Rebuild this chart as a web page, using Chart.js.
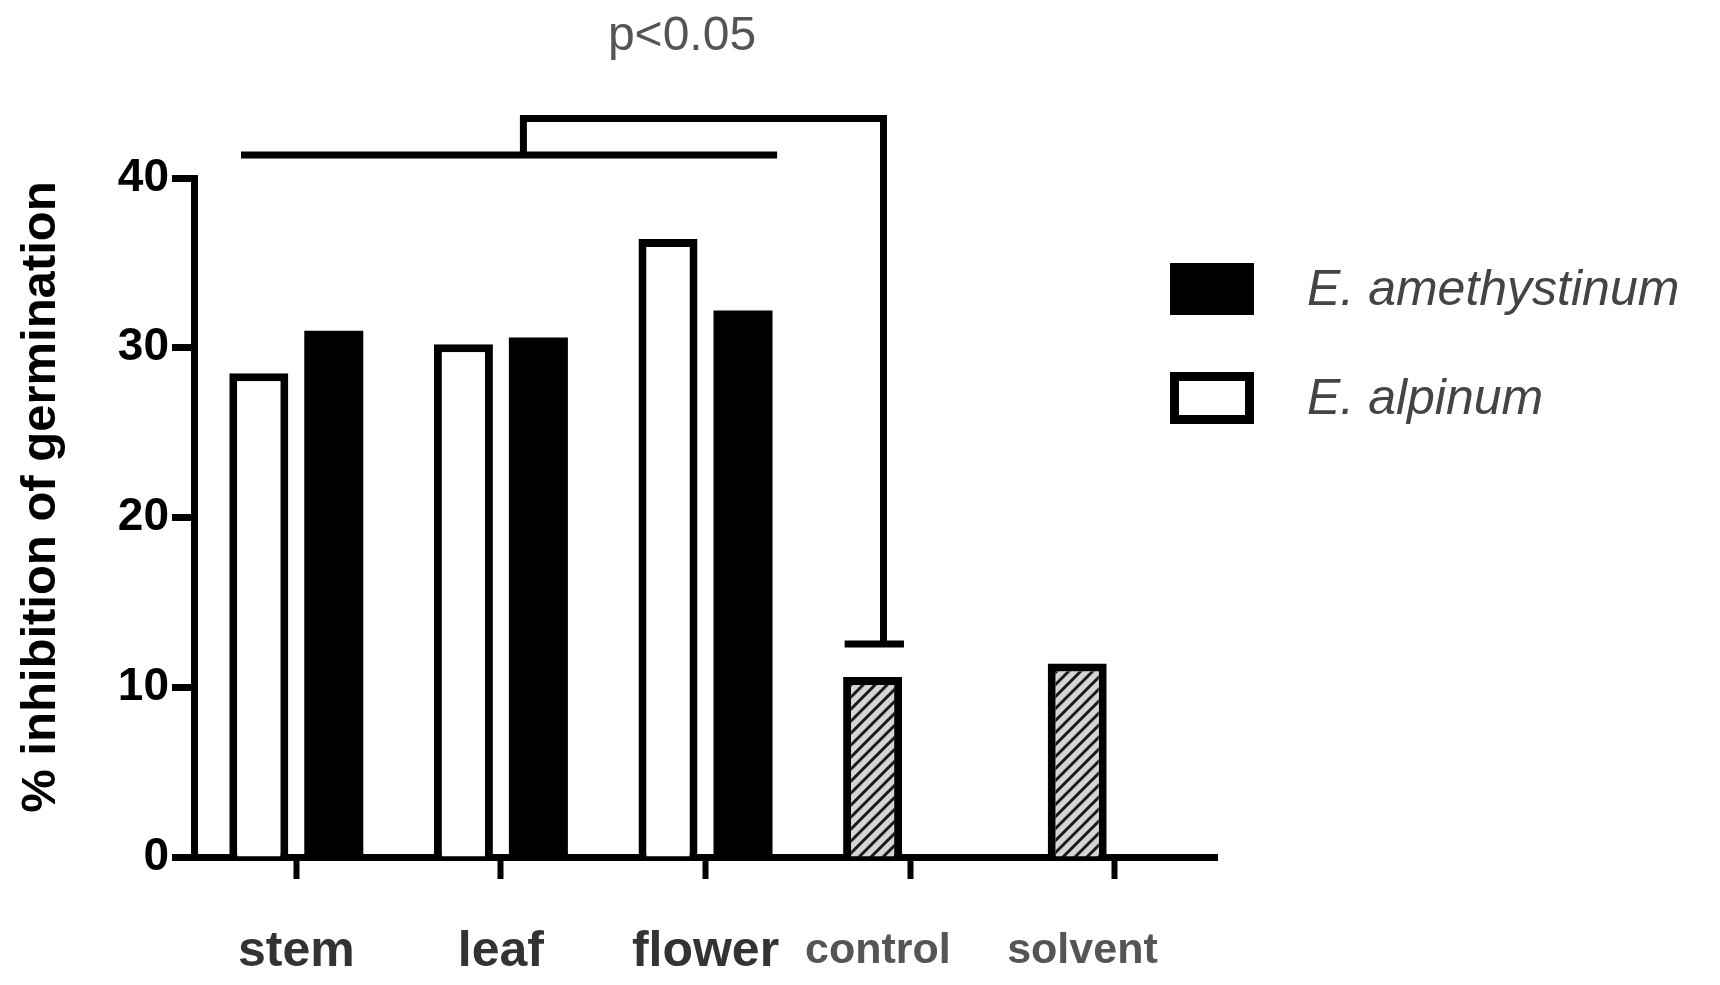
<!DOCTYPE html>
<html>
<head>
<meta charset="utf-8">
<script src="https://cdn.jsdelivr.net/npm/chart.js@4.4.1/dist/chart.umd.min.js"></script>
<style>
  html, body { margin: 0; padding: 0; background: #fff; }
  #wrap { width: 1720px; height: 985px; }
</style>
</head>
<body>
<div id="wrap"><canvas id="c" width="1720" height="985"></canvas></div>
<script>
// ====== data ======
const categories = ['stem', 'leaf', 'flower', 'control', 'solvent'];
const alpinumVals = [28.5, 30.2, 36.4, null, null];
const amethystinumVals = [31.0, 30.6, 32.2, null, null];
const controlVals = [null, null, null, 10.6, 11.4];
const yTicks = [0, 10, 20, 30, 40];
const legendNames = ['E. amethystinum', 'E. alpinum'];
const sigLabel = 'p<0.05';

// significance bracket, in data units (x = category index, y = % value)
const brLowY = 41.35, brTopY = 43.5, brCapY = 12.55;
const brLowX = [-0.27, 2.35], brMidX = 1.11, brRightX = 2.87, brCapX = [2.68, 2.97];

const FONT = "'Liberation Sans', Arial, sans-serif";

// hatch pattern for control / solvent
function makeHatch() {
    const s = 12, cv = document.createElement('canvas');
    cv.width = s; cv.height = s;
    const g = cv.getContext('2d');
    g.fillStyle = '#d4d4d4'; g.fillRect(0, 0, s, s);
    g.strokeStyle = '#1a1a1a'; g.lineWidth = 3;
    g.beginPath();
    g.moveTo(0, s); g.lineTo(s, 0);
    g.moveTo(-s / 2, s / 2); g.lineTo(s / 2, -s / 2);
    g.moveTo(s / 2, s * 1.5); g.lineTo(s * 1.5, s / 2);
    g.stroke();
    return g.createPattern(cv, 'repeat');
}

// bracket + p-value + legend, drawn after the chart
const extras = {
    id: 'extras',
    afterDraw(chart) {
        const { ctx, scales: { x, y } } = chart;
        const px = v => x.getPixelForValue(v), py = v => y.getPixelForValue(v);
        ctx.save();
        ctx.strokeStyle = '#000'; ctx.lineWidth = 7; ctx.lineCap = 'butt'; ctx.lineJoin = 'miter';
        ctx.beginPath();
        ctx.moveTo(px(brLowX[0]), py(brLowY)); ctx.lineTo(px(brLowX[1]), py(brLowY));
        ctx.moveTo(px(brMidX), py(brLowY)); ctx.lineTo(px(brMidX), py(brTopY));
        ctx.lineTo(px(brRightX), py(brTopY)); ctx.lineTo(px(brRightX), py(brCapY));
        ctx.moveTo(px(brCapX[0]), py(brCapY)); ctx.lineTo(px(brCapX[1]), py(brCapY));
        ctx.stroke();

        ctx.fillStyle = '#555'; ctx.font = `48px ${FONT}`;
        ctx.textAlign = 'center'; ctx.textBaseline = 'alphabetic';
        ctx.fillText(sigLabel, 682, 50);

        // legend
        const ds = [chart.data.datasets[1], chart.data.datasets[0]];
        const boxX = 1170, boxW = 84, boxH = 52, tops = [263, 372], bw = 9;
        ds.forEach((d, i) => {
            ctx.fillStyle = '#000'; ctx.fillRect(boxX, tops[i], boxW, boxH);
            if (d.backgroundColor !== '#000') {
                ctx.fillStyle = d.backgroundColor;
                ctx.fillRect(boxX + bw, tops[i] + bw, boxW - 2 * bw, boxH - 2 * bw);
            }
            ctx.fillStyle = '#444'; ctx.font = `italic 50px ${FONT}`;
            ctx.textAlign = 'left';
            ctx.fillText(legendNames[i], 1307, tops[i] + 42);
        });
        ctx.restore();
    }
};

const barCommon = { borderColor: '#000', categoryPercentage: 0.733, barPercentage: 0.787 };

new Chart(document.getElementById('c').getContext('2d'), {
    type: 'bar',
    data: {
        labels: categories,
        datasets: [
            { label: legendNames[1], data: alpinumVals, backgroundColor: '#fff', borderWidth: 8, stack: 'a', ...barCommon },
            { label: legendNames[0], data: amethystinumVals, backgroundColor: '#000', borderWidth: 0, stack: 'b', ...barCommon },
            { label: 'control', data: controlVals, backgroundColor: makeHatch(), borderWidth: 8, stack: 'a', ...barCommon },
        ]
    },
    options: {
        responsive: false,
        animation: false,
        devicePixelRatio: 1,
        layout: { padding: { left: 12, right: 503, top: 178, bottom: 0 } },
        plugins: { legend: { display: false }, title: { display: false }, tooltip: { enabled: false } },
        scales: {
            x: {
                offset: true,
                grid: { offset: false, drawOnChartArea: false, tickLength: 22, tickWidth: 6, tickColor: '#000' },
                border: { color: '#000', width: 7 },
                ticks: {
                    padding: 43,
                    autoSkip: false, maxRotation: 0, minRotation: 0,
                    // control / solvent sit a little left of their ticks in the original
                    callback: (v, i) => i < 3 ? categories[i] : categories[i] + '\u2003\u2002',
                    font: c => c.index < 3
                        ? { family: FONT, weight: 'bold', size: 50, lineHeight: 1.2 }
                        : { family: FONT, weight: 'bold', size: 43, lineHeight: 1.35 },
                    color: c => c.index < 3 ? '#333' : '#555'
                },
                afterFit: s => { s.height = 128; }
            },
            y: {
                stacked: false,
                min: 0, max: 40,
                afterBuildTicks: s => { s.ticks = yTicks.map(v => ({ value: v })); },
                grid: { drawOnChartArea: false, tickLength: 22, tickWidth: 7, tickColor: '#000' },
                border: { color: '#000', width: 7 },
                ticks: { padding: 3, color: '#000', font: { family: FONT, weight: 'bold', size: 46 } },
                title: { display: true, text: '\u00a0\u00a0\u00a0% inhibition of germination', color: '#000', padding: 0,
                         font: { family: FONT, weight: 'bold', size: 49 } },
                afterFit: s => { s.width = 182; }
            }
        }
    },
    plugins: [extras]
});
</script>
</body>
</html>
